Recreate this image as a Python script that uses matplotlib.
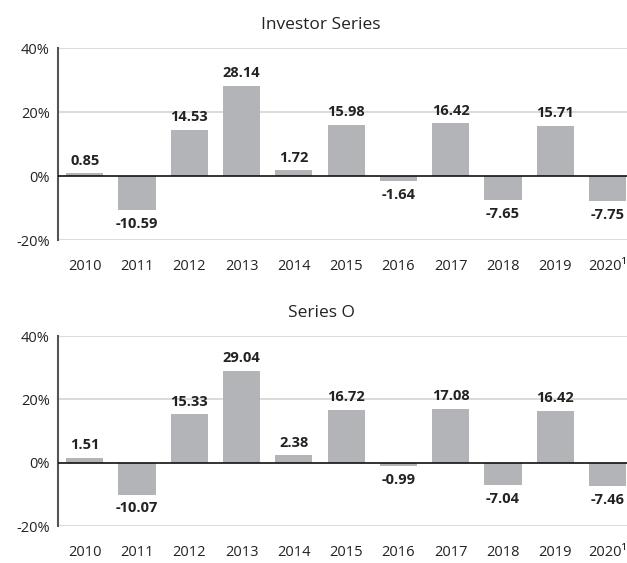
import numpy as np
import matplotlib.pyplot as plt

years = ["2010", "2011", "2012", "2013", "2014", "2015", "2016", "2017", "2018", "2019", "2020\u00b9"]
investor = [0.85, -10.59, 14.53, 28.14, 1.72, 15.98, -1.64, 16.42, -7.65, 15.71, -7.75]
series_o = [1.51, -10.07, 15.33, 29.04, 2.38, 16.72, -0.99, 17.08, -7.04, 16.42, -7.46]
titles = ["Investor Series", "Series O"]
yticks = [-20, 0, 20, 40]

plt.rcParams['font.family'] = ['Open Sans', 'DejaVu Sans']

bar_col = "#b3b4b7"
grid_col = "#d4d4d4"
text_col = "#222222"

fig = plt.figure(figsize=(6.27, 5.63), dpi=100)

# axes positions (left, bottom, width, height) in figure fractions
boxes = [[58 / 627, 323 / 563, 569 / 627, 192 / 563],
         [58 / 627, 37 / 563, 569 / 627, 190 / 563]]
title_y = [538 / 563, 250 / 563]

for box, ty, title, vals in zip(boxes, title_y, titles, [investor, series_o]):
    ax = fig.add_axes(box)
    x = np.arange(len(years))
    ax.bar(x, vals, width=0.71, color=bar_col, zorder=2)
    ax.set_xlim(-0.51, 10.37)
    ax.set_ylim(-20, 40)

    for yv in [40, 20, -20]:
        ax.axhline(yv, color=grid_col, lw=1.2, zorder=1)
    ax.axhline(0, color="#111111", lw=1.2, zorder=3)

    for xi, v in zip(x, vals):
        if v >= 0:
            ax.annotate(f"{v:.2f}", (xi, v), xytext=(0, 4), textcoords="offset points",
                        ha="center", va="bottom", fontsize=10.5, fontweight="bold",
                        color=text_col)
        else:
            ax.annotate(f"{v:.2f}", (xi, v), xytext=(0, -5), textcoords="offset points",
                        ha="center", va="top", fontsize=10.5, fontweight="bold",
                        color=text_col)

    ax.set_xticks(x)
    ax.set_xticklabels(years)
    ax.set_yticks(yticks)
    ax.set_yticklabels([f"{t}%" for t in yticks])
    ax.tick_params(axis="x", length=0, pad=14, labelsize=10.5, labelcolor=text_col)
    ax.tick_params(axis="y", length=0, pad=6, labelsize=10.5, labelcolor=text_col)
    for s in ["top", "right", "bottom"]:
        ax.spines[s].set_visible(False)
    ax.spines["left"].set_color("#555555")
    ax.spines["left"].set_linewidth(1.5)

    fig.text(321 / 627, ty, title, ha="center", va="center", fontsize=12.5, color=text_col)

fig.savefig("out.png", dpi=100)
